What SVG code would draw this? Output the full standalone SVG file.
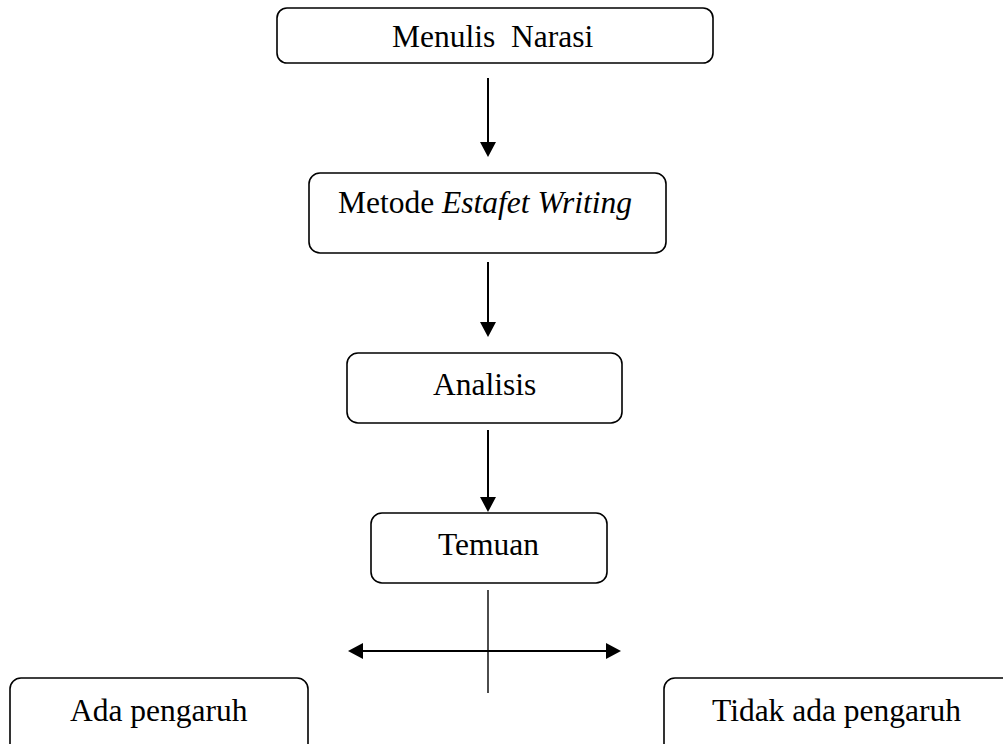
<svg xmlns="http://www.w3.org/2000/svg" width="1003" height="744" viewBox="0 0 1003 744">
  <style>
    .box { fill: #ffffff; stroke: #000000; stroke-width: 1.6; }
    .lbl { font-family: "Liberation Serif", "Times New Roman", serif; font-size: 31.5px; fill: #000000; }
    .it { font-style: italic; }
    .conn { stroke: #000000; stroke-width: 2; fill: none; }
    .thin { stroke: #000000; stroke-width: 1.4; fill: none; }
  </style>
  <defs>
    <marker id="ah" viewBox="0 0 15 16" refX="0" refY="8" markerWidth="15" markerHeight="16" markerUnits="userSpaceOnUse" orient="auto-start-reverse">
      <path d="M0,0 L15,8 L0,16 Z" fill="#000000"/>
    </marker>
  </defs>
  <rect x="0" y="0" width="1003" height="744" fill="#ffffff"/>

  <g id="node-menulis">
    <rect class="box" x="277" y="8" width="436" height="55" rx="10"/>
    <text class="lbl" x="392" y="47" xml:space="preserve">Menulis  Narasi</text>
  </g>
  <g id="node-metode">
    <rect class="box" x="309" y="173" width="357" height="80" rx="11"/>
    <text class="lbl" x="338" y="213">Metode <tspan class="it">Estafet Writing</tspan></text>
  </g>
  <g id="node-analisis">
    <rect class="box" x="347" y="353" width="275" height="70" rx="11"/>
    <text class="lbl" x="433" y="395">Analisis</text>
  </g>
  <g id="node-temuan">
    <rect class="box" x="371" y="513" width="236" height="70" rx="11"/>
    <text class="lbl" x="438" y="555">Temuan</text>
  </g>
  <g id="node-ada">
    <rect class="box" x="10" y="678" width="298" height="90" rx="11"/>
    <text class="lbl" x="70" y="721">Ada pengaruh</text>
  </g>
  <g id="node-tidak">
    <rect class="box" x="664" y="678" width="360" height="90" rx="11"/>
    <text class="lbl" x="712" y="721">Tidak ada pengaruh</text>
  </g>

  <g id="connectors">
    <line class="conn" x1="488" y1="78" x2="488" y2="142" marker-end="url(#ah)"/>
    <line class="conn" x1="488" y1="262" x2="488" y2="322" marker-end="url(#ah)"/>
    <line class="conn" x1="488" y1="430" x2="488" y2="497" marker-end="url(#ah)"/>
    <line class="thin" x1="488" y1="590" x2="488" y2="693"/>
    <line class="conn" x1="363" y1="651" x2="606" y2="651" marker-start="url(#ah)" marker-end="url(#ah)"/>
  </g>
</svg>
